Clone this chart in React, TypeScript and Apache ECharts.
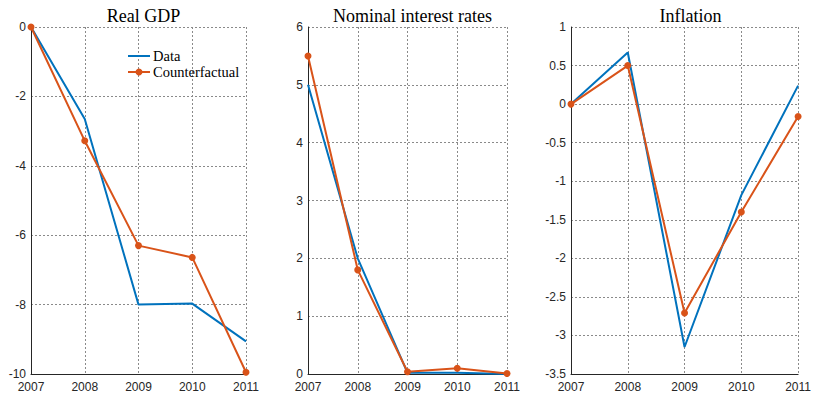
import React, { useEffect, useRef } from "react";
import * as echarts from "echarts";

const years = ["2007", "2008", "2009", "2010", "2011"];
const titles = ["Real GDP", "Nominal interest rates", "Inflation"];
const seriesNames = ["Data", "Counterfactual"];

const gdpData = [0, -2.65, -8.0, -7.97, -9.06];
const gdpCounter = [0, -3.28, -6.3, -6.64, -9.95];

const rateData = [5.0, 2.0, 0.02, 0.02, 0.0];
const rateCounter = [5.5, 1.8, 0.04, 0.1, 0.01];

const inflData = [0, 0.67, -3.15, -1.18, 0.24];
const inflCounter = [0, 0.5, -2.71, -1.4, -0.16];

const yMins = [-10, 0, -3.5];
const yMaxs = [0, 6, 1];
const yIntervals = [2, 1, 0.5];

const BLUE = "#0072BD";
const ORANGE = "#D95319";

export default function App() {
  const ref = useRef<HTMLDivElement>(null);
  useEffect(() => {
    if (!ref.current) return;
    const chart = echarts.init(ref.current, undefined, { renderer: "svg" });
    const grids = [
      { left: 31, top: 27, width: 215, height: 349 },
      { left: 308, top: 27, width: 199, height: 349 },
      { left: 571, top: 27, width: 229, height: 349 },
    ];
    const dataSets = [
      [gdpData, gdpCounter],
      [rateData, rateCounter],
      [inflData, inflCounter],
    ];
    const splitLine = {
      show: true,
      lineStyle: { color: "#8a8a8a", type: [2, 2] as any, width: 1 },
    };
    const axisLabel = {
      color: "#262626",
      fontFamily: "Liberation Sans",
      fontSize: 12,
    };
    const legendFont = { fontFamily: "Liberation Serif", fontSize: 14.5, fill: "#000" };
    const option: any = {
      animation: false,
      backgroundColor: "#ffffff",
      title: titles.map((t, i) => ({
        text: t,
        left: grids[i].left + grids[i].width / 2,
        top: 2,
        textAlign: "center",
        textStyle: {
          fontFamily: "Liberation Serif",
          fontSize: 18,
          fontWeight: "normal",
          color: "#000",
        },
      })),
      graphic: [
        { type: "line", shape: { x1: 128, y1: 56, x2: 150, y2: 56 }, style: { stroke: BLUE, lineWidth: 2 }, z: 11 },
        { type: "text", x: 153, y: 56, style: { ...legendFont, text: seriesNames[0], verticalAlign: "middle" }, z: 11 },
        { type: "line", shape: { x1: 128, y1: 72, x2: 150, y2: 72 }, style: { stroke: ORANGE, lineWidth: 2 }, z: 11 },
        { type: "circle", shape: { cx: 139, cy: 72, r: 3.5 }, style: { fill: ORANGE }, z: 11 },
        { type: "text", x: 153, y: 72, style: { ...legendFont, text: seriesNames[1], verticalAlign: "middle" }, z: 11 },
      ],
      grid: grids.map((g) => ({ ...g, containLabel: false })),
      xAxis: grids.map((_, i) => ({
        type: "category",
        gridIndex: i,
        data: years,
        boundaryGap: false,
        axisLine: { show: true, onZero: false, lineStyle: { color: "#262626", width: 1 } },
        axisTick: { show: false },
        axisLabel: { ...axisLabel, margin: 7, interval: 0 },
        splitLine,
      })),
      yAxis: grids.map((_, i) => ({
        type: "value",
        gridIndex: i,
        min: yMins[i],
        max: yMaxs[i],
        interval: yIntervals[i],
        axisLine: { show: true, onZero: false, lineStyle: { color: "#262626", width: 1 } },
        axisTick: { show: false },
        axisLabel: { ...axisLabel, margin: 5 },
        splitLine,
      })),
      series: dataSets.flatMap((pair, i) => [
        {
          name: seriesNames[0],
          type: "line",
          xAxisIndex: i,
          yAxisIndex: i,
          data: pair[0],
          symbol: "none",
          lineStyle: { color: BLUE, width: 2 },
          itemStyle: { color: BLUE },
          clip: false,
        },
        {
          name: seriesNames[1],
          type: "line",
          xAxisIndex: i,
          yAxisIndex: i,
          data: pair[1],
          symbol: "circle",
          symbolSize: 7,
          lineStyle: { color: ORANGE, width: 2 },
          itemStyle: { color: ORANGE },
          clip: false,
        },
      ]),
    };
    chart.setOption(option);
    return () => chart.dispose();
  }, []);
  return (
    <div
      ref={ref}
      style={{ position: "fixed", left: 0, top: 0, width: 814, height: 393 }}
    />
  );
}
